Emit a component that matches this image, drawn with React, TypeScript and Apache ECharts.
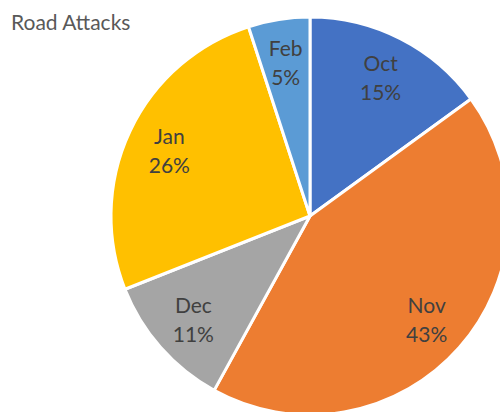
import React, { useEffect, useRef } from "react";
import * as echarts from "echarts";

const categories = ["Oct", "Nov", "Dec", "Jan", "Feb"];
const values = [15, 43, 11, 26, 5];
const colors = ["#4472C4", "#ED7D31", "#A5A5A5", "#FFC000", "#5B9BD5"];
const titleText = "Road Attacks";

export default function App() {
  const ref = useRef<HTMLDivElement>(null);
  useEffect(() => {
    if (!ref.current) return;
    const chart = echarts.init(ref.current, undefined, { renderer: "svg" });
    const total = values.reduce((a, b) => a + b, 0);
    const data = categories.map((c, i) => ({
      name: c,
      value: values[i],
      itemStyle: { color: colors[i] },
    }));
    chart.setOption({
      animation: false,
      backgroundColor: "#ffffff",
      title: {
        text: titleText,
        left: 11,
        top: 11,
        padding: 0,
        textStyle: {
          fontFamily: "Lato",
          fontSize: 21,
          fontWeight: "normal",
          color: "#595959",
        },
      },
      series: [
        {
          type: "pie",
          center: [310, 216],
          radius: [0, 199],
          startAngle: 90,
          clockwise: true,
          silent: true,
          label: { show: false },
          labelLine: { show: false },
          itemStyle: { borderColor: "#ffffff", borderWidth: 3 },
          data,
        },
        {
          type: "pie",
          center: [310, 216],
          radius: [106, 199],
          startAngle: 90,
          clockwise: true,
          silent: true,
          itemStyle: { color: "transparent", borderWidth: 0 },
          label: {
            show: true,
            position: "inside",
            fontFamily: "Lato",
            fontSize: 21,
            lineHeight: 29,
            color: "#404040",
            formatter: (p: any) =>
              `${p.name}\n${Math.round((p.value / total) * 100)}%`,
          },
          labelLine: { show: false },
          data: categories.map((c, i) => ({
            name: c,
            value: values[i],
            itemStyle: { color: "transparent" },
          })),
        },
      ],
    });
    return () => chart.dispose();
  }, []);
  return (
    <div
      ref={ref}
      style={{ position: "fixed", left: 0, top: 0, width: 500, height: 412 }}
    />
  );
}
